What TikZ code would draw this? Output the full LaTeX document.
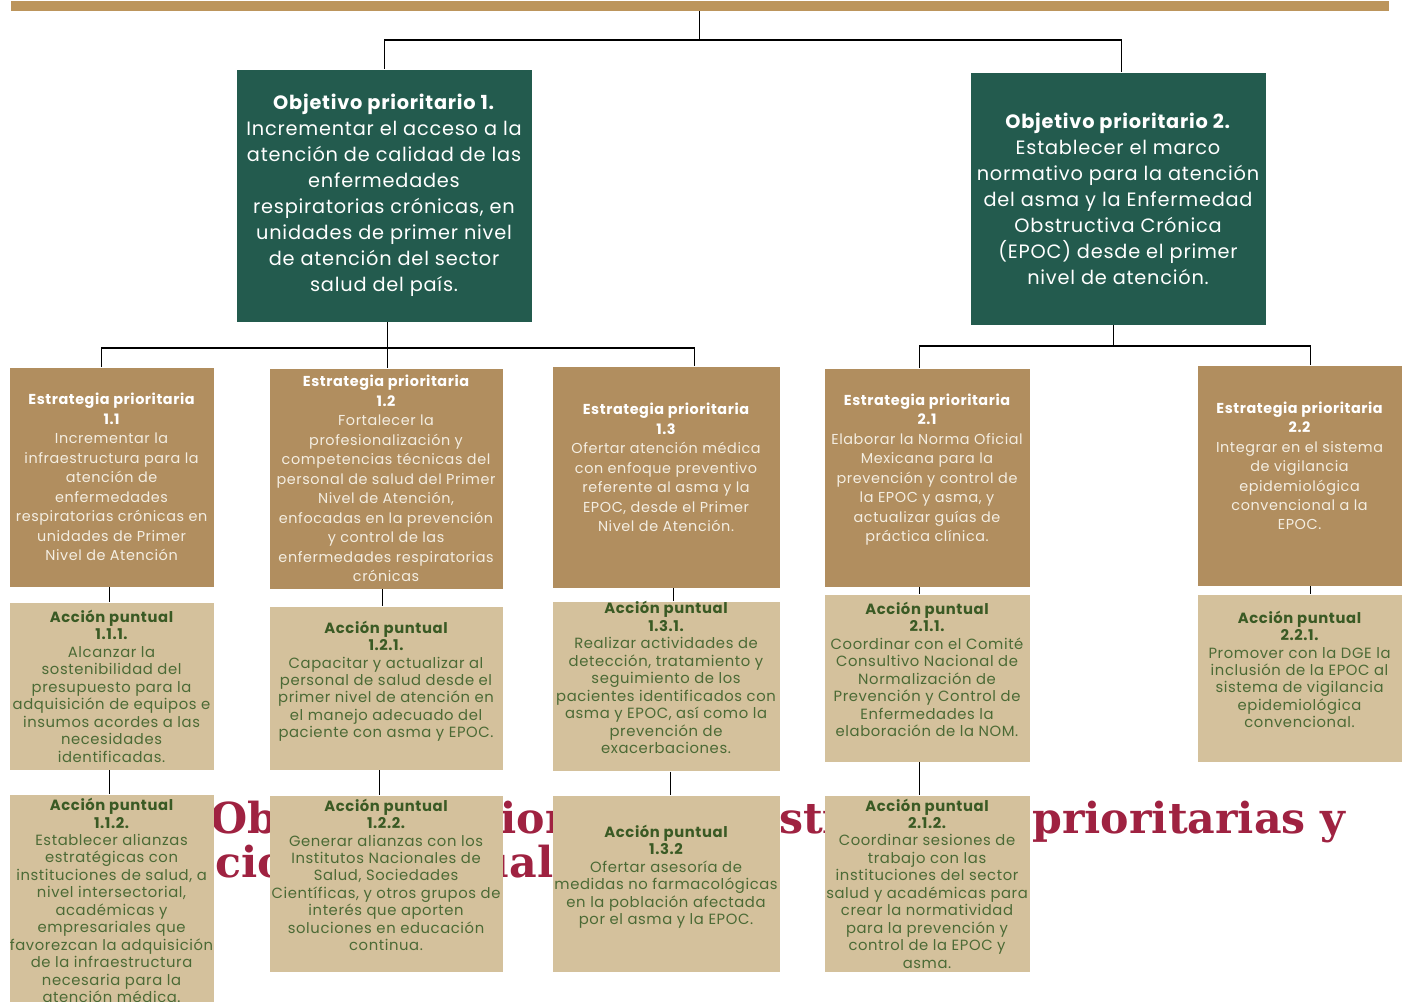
\documentclass[tikz,border=0pt]{standalone}
\usepackage{fontspec}
\setmainfont{Poppins}[LetterSpace=4]
\newfontfamily\slabfont{DejaVu Serif}
\usetikzlibrary{positioning}

\definecolor{bartan}{HTML}{BC955C}
\definecolor{objgreen}{HTML}{235B4E}
\definecolor{esttan}{HTML}{B18E5F}
\definecolor{acctan}{HTML}{D4C19C}
\definecolor{accgreen}{HTML}{3A5A24}
\definecolor{acctext}{HTML}{4B6A35}
\definecolor{estcream}{HTML}{F4EEE2}
\definecolor{crimson}{HTML}{9F2241}

\newcommand{\esthead}[1]{\textbf{\color{white}Estrategia prioritaria}\\\textbf{\color{white}#1}}
\newcommand{\acchead}[1]{\textbf{\color{accgreen}Acción puntual}\\\textbf{\color{accgreen}#1}}

\begin{document}
\begin{tikzpicture}[x=0.75pt,y=-0.75pt,line width=0.8pt,
  boxsize/.style 2 args={minimum width=#1*0.75pt,minimum height=#2*0.75pt}]
  \tikzstyle{every node}=[inner sep=0pt,align=center,anchor=north west]
  \tikzstyle{objbox}=[fill=objgreen,text=white,font=\fontsize{14.5}{19.5}\selectfont,boxsize={295}{252}]
  \tikzstyle{estbox}=[fill=esttan,text=estcream,font=\fontsize{10.8}{14.6}\selectfont]
  \tikzstyle{accbox}=[fill=acctan,text=acctext,font=\fontsize{11.1}{13.1}\selectfont]
  \tikzstyle{bigtitle}=[text=crimson,font=\slabfont\bfseries\fontsize{32}{36}\selectfont]

  \useasboundingbox (0,0) rectangle (1405,1002);

  \node[bigtitle,anchor=base west] (title1) at (210,833) {Objetivos prioritarios, estrategias prioritarias y};
  \node[bigtitle,anchor=base west] (title2) at (161,877) {acciones\hspace{-12pt} puntuales};

  \node[fill=bartan,boxsize={1378}{10}] (bar) at (10,0) {};

  \node[objbox] (o1) at (236,69) {\textbf{Objetivo prioritario 1.}\\Incrementar el acceso a la\\atención de calidad de las\\enfermedades\\respiratorias crónicas, en\\unidades de primer nivel\\de atención del sector\\salud del país.};
  \node[objbox] (o2) at (970,72) {\textbf{Objetivo prioritario 2.}\\Establecer el marco\\normativo para la atención\\del asma y la Enfermedad\\Obstructiva Crónica\\(EPOC) desde el primer\\nivel de atención.};

  \node[estbox,boxsize={204}{219}] (s11) at (9,367) {\esthead{1.1}\\Incrementar la\\infraestructura para la\\atención de\\enfermedades\\respiratorias crónicas en\\unidades de Primer\\Nivel de Atención};
  \node[estbox,boxsize={233}{220}] (s12) at (269,368) {\esthead{1.2}\\Fortalecer la\\profesionalización y\\competencias técnicas del\\personal de salud del Primer\\Nivel de Atención,\\enfocadas en la prevención\\y control de las\\enfermedades respiratorias\\crónicas};
  \node[estbox,boxsize={227}{221}] (s13) at (552,366) {\esthead{1.3}\\Ofertar atención médica\\con enfoque preventivo\\referente al asma y la\\EPOC, desde el Primer\\Nivel de Atención.\\\mbox{}};
  \node[estbox,boxsize={205}{218}] (s21) at (824,368) {\esthead{2.1}\\Elaborar la Norma Oficial\\Mexicana para la\\prevención y control de\\la EPOC y asma, y\\actualizar guías de\\práctica clínica.\\\mbox{}};
  \node[estbox,boxsize={204}{220}] (s22) at (1197,365) {\esthead{2.2}\\Integrar en el sistema\\de vigilancia\\epidemiológica\\convencional a la\\EPOC.\\\mbox{}};

  \node[accbox,boxsize={204}{167}] (a111) at (9,602) {\acchead{1.1.1.}\\Alcanzar la\\sostenibilidad del\\presupuesto para la\\adquisición de equipos e\\insumos acordes a las\\necesidades\\identificadas.};
  \node[accbox,boxsize={233}{163}] (a121) at (269,606) {\acchead{1.2.1.}\\Capacitar y actualizar al\\personal de salud desde el\\primer nivel de atención en\\el manejo adecuado del\\paciente con asma y EPOC.\\\mbox{}};
  \node[accbox,boxsize={227}{168}] (a131) at (552,601) {\acchead{1.3.1.}\\Realizar actividades de\\detección, tratamiento y\\seguimiento de los\\pacientes identificados con\\asma y EPOC, así como la\\prevención de\\exacerbaciones.\\\mbox{}};
  \node[accbox,boxsize={205}{167}] (a211) at (824,594) {\acchead{2.1.1.}\\Coordinar con el Comité\\Consultivo Nacional de\\Normalización de\\Prevención y Control de\\Enfermedades la\\elaboración de la NOM.\\\mbox{}};
  \node[accbox,boxsize={204}{167}] (a221) at (1197,594) {\acchead{2.2.1.}\\Promover con la DGE la\\inclusión de la EPOC al\\sistema de vigilancia\\epidemiológica\\convencional.\\\mbox{}};

  \node[accbox,boxsize={204}{212}] (a112) at (9,794) {\acchead{1.1.2.}\\Establecer alianzas\\estratégicas con\\instituciones de salud, a\\nivel intersectorial,\\académicas y\\empresariales que\\favorezcan la adquisición\\de la infraestructura\\necesaria para la\\atención médica.};
  \node[accbox,boxsize={233}{176}] (a122) at (269,795) {\acchead{1.2.2.}\\Generar alianzas con los\\Institutos Nacionales de\\Salud, Sociedades\\Científicas, y otros grupos de\\interés que aporten\\soluciones en educación\\continua.\\\mbox{}};
  \node[accbox,boxsize={227}{176}] (a132) at (552,795) {\acchead{1.3.2}\\Ofertar asesoría de\\medidas no farmacológicas\\en la población afectada\\por el asma y la EPOC.\\\mbox{}};
  \node[accbox,boxsize={205}{176}] (a212) at (824,795) {\acchead{2.1.2.}\\Coordinar sesiones de\\trabajo con las\\instituciones del sector\\salud y académicas para\\crear la normatividad\\para la prevención y\\control de la EPOC y\\asma.};

  \coordinate (j0) at (698,40);
  \coordinate (j1) at (387,348);
  \coordinate (j2) at (1113,346);

  \draw (bar.south) -- (bar.south |- j0);
  \draw (o1.north) |- (j0) -| ([xshift=2.6pt]o2.north);
  \draw ([xshift=2.6pt]o1.south) -- ([xshift=2.6pt]o1.south |- s12.north);
  \draw ([xshift=-7.5pt]s11.north) |- (j1) -| ([xshift=21.4pt]s13.north);
  \draw ([xshift=-3.4pt]o2.south) -- ([xshift=-3.4pt]o2.south |- j2);
  \draw ([xshift=-5.6pt]s21.north) |- (j2) -| ([xshift=8.25pt]s22.north);

  \path[draw]
  ([xshift=-1.5pt]s11.south) edge ([xshift=-1.5pt]s11.south |- a111.north)
  ([xshift=-1.5pt]a111.south) edge ([xshift=-1.5pt]a111.south |- a112.north)
  ([xshift=-2.6pt]s12.south) edge ([xshift=-2.6pt]s12.south |- a121.north)
  ([xshift=-4.9pt]a121.south) edge ([xshift=-4.9pt]a121.south |- a122.north)
  ([xshift=5.25pt]s13.south) edge ([xshift=5.25pt]s13.south |- a131.north)
  ([xshift=3.4pt]a131.south) edge ([xshift=3.4pt]a131.south |- a132.north)
  ([xshift=-6pt]s21.south) edge ([xshift=-6pt]s21.south |- a211.north)
  ([xshift=-5.6pt]a211.south) edge ([xshift=-5.6pt]a211.south |- a212.north)
  ([xshift=8.25pt]s22.south) edge ([xshift=8.25pt]s22.south |- a221.north);
\end{tikzpicture}
\end{document}
